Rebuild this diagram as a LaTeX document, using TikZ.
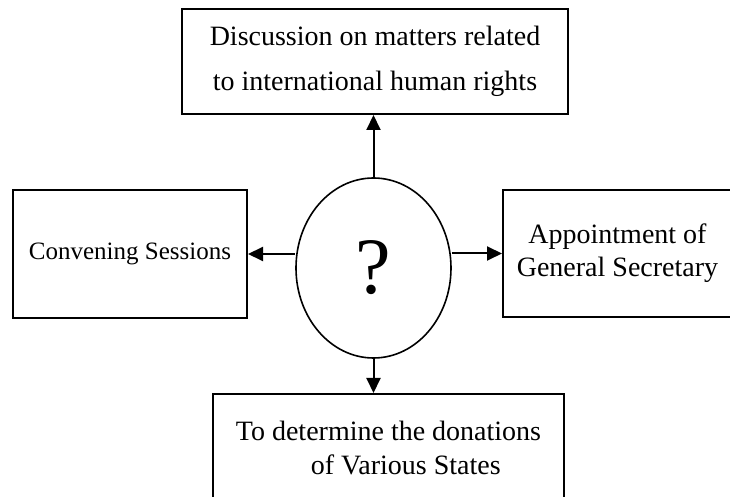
\documentclass[tikz,border=0pt]{standalone}
\usepackage{fontspec}
\setmainfont{Liberation Serif}
\usetikzlibrary{shapes.geometric, arrows.meta, positioning}

\tikzset{
  boite/.style={draw, line width=1pt, inner sep=0pt, align=center},
  fleche/.style={-{Triangle[length=7.5pt,width=7pt]}, line width=1pt},
}

\begin{document}
\begin{tikzpicture}[x=0.5pt, y=-0.5pt]
\clip (0,0) rectangle (730,497);

\node [ellipse, draw, line width=0.8pt, minimum width=77.5pt, minimum height=90pt, inner sep=0pt, font=\fontsize{40}{40}\selectfont] (q) at (373.5,268) {?};

\node [boite, minimum width=193pt, minimum height=52.5pt, font=\fontsize{14}{22.5}\selectfont] (discussion) at (375,61.5) {Discussion on matters related\\to international human rights};
\node [boite, minimum width=117pt, minimum height=64pt, font=\fontsize{12.5}{15}\selectfont] (convening) at (130,254) {Convening Sessions};
\node [boite, minimum width=114.5pt, minimum height=63.5pt, font=\fontsize{14}{16.5}\selectfont] (appointment) at (617.5,253.5) {Appointment of\\General Secretary};
\node [boite, align=left, minimum width=175.5pt, minimum height=54pt, font=\fontsize{14}{17}\selectfont] (donations) at (388.5,448) {To determine the donations\\\hspace{37.5pt}of Various States};

\draw [fleche] (q.north) -- (q.north |- discussion.south);
\draw [fleche] (q.south) -- (q.south |- donations.north);
\draw [fleche] (q.west |- convening.east) -- (convening.east);
\draw [fleche] (q.east |- appointment.west) -- (appointment.west);
\end{tikzpicture}
\end{document}
